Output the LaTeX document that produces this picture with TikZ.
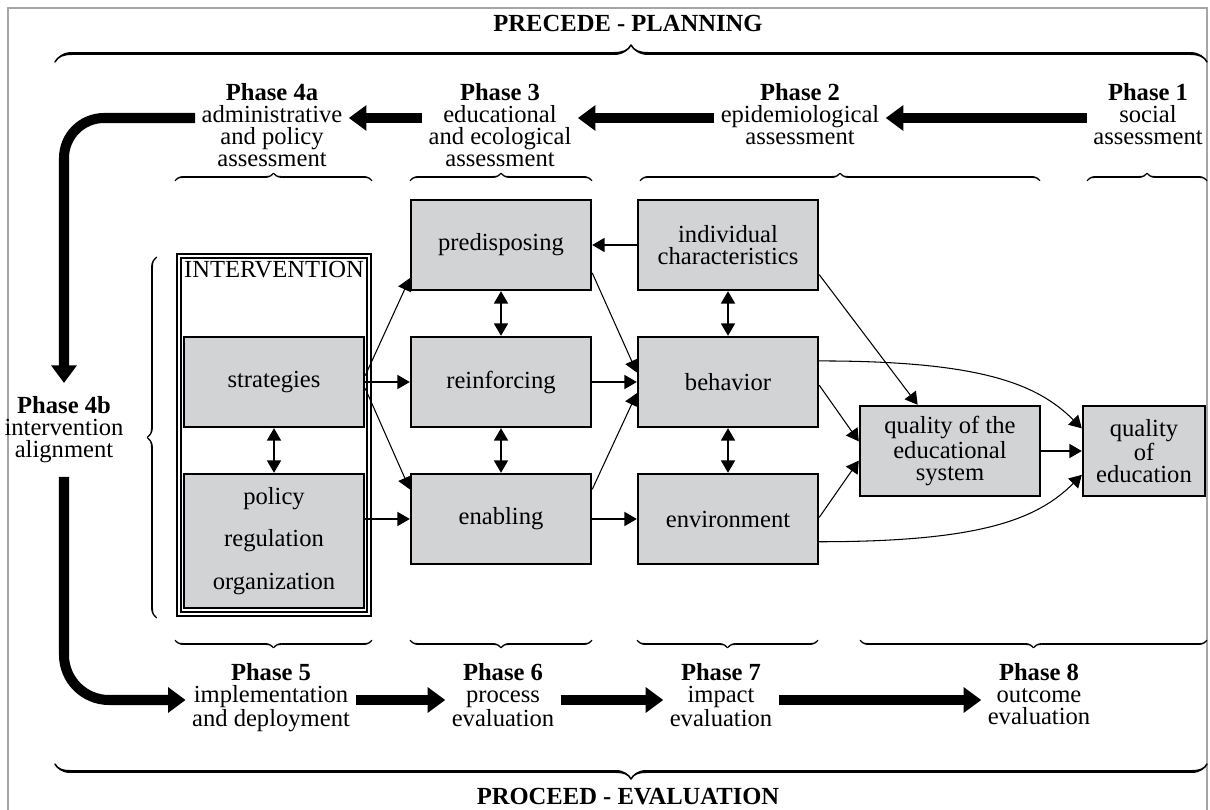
\documentclass[tikz,border=0pt]{standalone}
\usepackage{fontspec}
\setmainfont{Liberation Serif}
\usepackage{tikz}
\usetikzlibrary{arrows.meta, decorations.pathreplacing, calligraphy}
\definecolor{BoxGray}{RGB}{209,211,213}
\definecolor{FrameGray}{RGB}{165,165,165}

\begin{document}
\begin{tikzpicture}[x=0.02cm, y=-0.02cm, font=\fontsize{14}{12.5}\selectfont,
  box/.style={draw, line width=1.4pt, fill=BoxGray, minimum width=3.6cm,
              minimum height=1.8cm, align=center, inner sep=2pt},
  phase/.style={align=center, inner sep=3.5pt, anchor=north},
  link/.style={-{Triangle[length=7pt,width=8pt]}, line width=0.6pt},
  twoway/.style={{Triangle[length=7pt,width=8pt]}-{Triangle[length=7pt,width=8pt]}, line width=0.6pt},
  bigarrow/.style={-{Triangle[length=10pt,width=14pt]}, line width=5.7pt},
  bigbrace/.style={decorate, decoration={calligraphic brace, amplitude=#1}, line width=1.7pt},
  smallbrace/.style={decorate, decoration={calligraphic brace, amplitude=0.16cm}, line width=1.1pt}]
\useasboundingbox (0,0) rectangle (1210,810);

% Frame
\draw[FrameGray, line width=0.6pt] (8,815) -- (8,8) -- (1207,8) -- (1207,815);

% Titles and long braces
\node[font=\fontsize{14}{12}\selectfont\bfseries] (precede) at (628,23) {PRECEDE - PLANNING};
\node[font=\fontsize{14}{12}\selectfont\bfseries] (proceed) at (628,797) {PROCEED - EVALUATION};
\draw[bigbrace=0.34cm] (55,62) -- (1207,62);
\draw[bigbrace=0.3cm] (1207,764) -- (55,764);

% Phase braces
\draw[smallbrace] (175,181) -- (372,181);
\draw[smallbrace] (410,181) -- (592,181);
\draw[smallbrace] (640,181) -- (1040,181);
\draw[smallbrace] (1087,181) -- (1207,181);
\draw[smallbrace] (372,640) -- (175,640);
\draw[smallbrace] (592,640) -- (410,640);
\draw[smallbrace] (818,640) -- (637,640);
\draw[smallbrace] (1207,640) -- (860,640);
\draw[decorate, decoration={calligraphic brace, amplitude=0.2cm}, line width=1.1pt] (157,618) -- (157,257);

% Intervention block
\node[draw, fill=white, double, double distance=1.1pt, line width=1.1pt,
      minimum width=3.8cm, minimum height=7.16cm] (intervention) at (274,435) {};
\node (intlabel) at (274,270) {INTERVENTION};
\node[box] (strategies) at (274,382) {strategies};
\node[box, minimum height=2.68cm, font=\fontsize{14}{24}\selectfont] (policy) at (274,541)
  {policy\\regulation\\organization};

% Factors
\node[box] (predisposing) at (501,245) {predisposing};
\node[box] (reinforcing) at (501,382) {reinforcing};
\node[box] (enabling) at (501,519) {enabling};
\node[box] (individual) at (728,245) {individual\\characteristics};
\node[box] (behavior) at (728,382) {behavior};
\node[box] (environment) at (728,519) {environment};
\node[box] (qsystem) at (950,451) {quality of the\\educational\\system};
\node[box, minimum width=2.44cm] (qeducation) at (1144,451) {quality\\of\\education};

% Phases
\coordinate (toprow) at (0,118);
\coordinate (botrow) at (0,700);
\node[phase] (ph1) at (1148,77) {\textbf{Phase 1}\\social\\assessment};
\node[phase] (ph2) at (800,77) {\textbf{Phase 2}\\epidemiological\\assessment};
\node[phase] (ph3) at (500,77) {\textbf{Phase 3}\\educational\\and ecological\\assessment};
\node[phase] (ph4a) at (272,77) {\textbf{Phase 4a}\\administrative\\and policy\\assessment};
\node[phase] (ph4b) at (64,390) {\textbf{Phase 4b}\\intervention\\alignment};
\node[phase] (ph5) at (271,657) {\textbf{Phase 5}\\implementation\\and deployment};
\node[phase] (ph6) at (503,657) {\textbf{Phase 6}\\process\\evaluation};
\node[phase] (ph7) at (721,657) {\textbf{Phase 7}\\impact\\evaluation};
\node[phase] (ph8) at (1039,657) {\textbf{Phase 8}\\outcome\\evaluation};

% Thick phase arrows
\draw[bigarrow] (ph1.west |- toprow) -- (ph2.east |- toprow);
\draw[bigarrow] (ph2.west |- toprow) -- (ph3.east |- toprow);
\draw[bigarrow] (ph3.west |- toprow) -- (ph4a.east |- toprow);
\draw[bigarrow, rounded corners=0.8cm, shorten >=0.14cm] (ph4a.west |- toprow) -| (ph4b.north);
\draw[bigarrow, rounded corners=0.9cm, shorten <=0.15cm] (ph4b.south) |- (ph5.west |- botrow);
\draw[bigarrow] (ph5.east |- botrow) -- (ph6.west |- botrow);
\draw[bigarrow] (ph6.east |- botrow) -- (ph7.west |- botrow);
\draw[bigarrow] (ph7.east |- botrow) -- (ph8.west |- botrow);

% Links between boxes
\foreach \a/\b in {strategies/policy, predisposing/reinforcing, reinforcing/enabling,
                   individual/behavior, behavior/environment}
  \draw[twoway] (\a.south) -- (\b.north);
\draw[link] (strategies.4) -- (predisposing.200);
\draw[link] (strategies.east) -- (reinforcing.west);
\draw[link] (strategies.-4) -- (enabling.162);
\draw[link] (policy.east |- enabling.west) -- (enabling.west);
\draw[link] (individual.west) -- (predisposing.east);
\draw[link] (predisposing.-17) -- (behavior.174);
\draw[link] (reinforcing.east) -- (behavior.west);
\draw[link] (enabling.18) -- (behavior.187);
\draw[link] (enabling.east) -- (environment.west);
\draw[link] (individual.-18) -- (qsystem.125);
\draw[link] (behavior.-2) -- (qsystem.174);
\draw[link] (environment.1) -- (qsystem.186);
\draw[link] (qsystem.east) -- (qeducation.west);
\draw[link] (behavior.13) .. controls +(160,0) and +(-45,-45) .. (qeducation.160);
\draw[link] (environment.-14) .. controls +(160,0) and +(-45,45) .. (qeducation.201);

\end{tikzpicture}
\end{document}
